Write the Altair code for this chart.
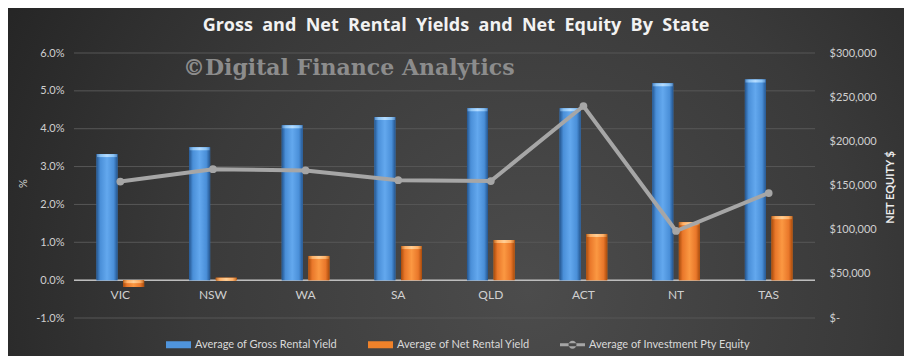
import altair as alt
import pandas as pd

# ---- data ----
states = ["VIC", "NSW", "WA", "SA", "QLD", "ACT", "NT", "TAS"]
gross_yield = [0.0333, 0.0351, 0.0409, 0.0431, 0.0454, 0.0454, 0.0520, 0.0530]
net_yield = [-0.0018, 0.0006, 0.0064, 0.0090, 0.0106, 0.0122, 0.0153, 0.0169]
equity = [154500, 168500, 167000, 156000, 155000, 240000, 98500, 141500]
pct_ticks = [-0.01, 0.0, 0.01, 0.02, 0.03, 0.04, 0.05, 0.06]
equity_ticks = [0, 50000, 100000, 150000, 200000, 250000, 300000]

TITLE = "Gross\u00a0 and\u00a0 Net\u00a0 Rental\u00a0 Yields\u00a0 and\u00a0 Net\u00a0 Equity\u00a0 By\u00a0 State"
WATERMARK = "\u00a9Digital Finance Analytics"
GROSS = "Average of Gross Rental Yield"
NET = "Average of Net Rental Yield"
EQUITY = "Average of Investment Pty Equity"
series_names = [GROSS, NET, EQUITY]
series_colors = ["#4f94dc", "#f0822a", "#a6a6a6"]

bars_df = pd.DataFrame({
    "state": states * 2,
    "series": [GROSS] * len(states) + [NET] * len(states),
    "value": gross_yield + net_yield,
})
eq_df = pd.DataFrame({"state": states, "equity": equity})
grid_df = pd.DataFrame({"v": pct_ticks})

W, H = 741, 265
PAD = {"left": 66, "top": 45, "right": 89, "bottom": 38}
FONT = "Lato"
LBL = "#d0d0d0"

xaxis = alt.Axis(title=None, domain=False, ticks=False, grid=False, labelAngle=0,
                 labelColor=LBL, labelFont=FONT, labelFontSize=12, labelPadding=9,
                 offset=-H / 7.0, zindex=1)
xenc = alt.X("state:N", sort=states, scale=alt.Scale(paddingInner=0, paddingOuter=0), axis=xaxis)
xoff = alt.XOffset("series:N", sort=[GROSS, NET],
                   scale=alt.Scale(domain=[GROSS, NET], paddingInner=0.21, paddingOuter=0.845))

yscale = alt.Scale(domain=[-0.01, 0.06], nice=False, zero=False)
yaxis = alt.Axis(title="%", values=pct_ticks,
                 labelExpr="replace(format(datum.value, '.1%'), '\u2212', '-')",
                 grid=False, domain=False, ticks=False, labelColor=LBL, labelFont=FONT,
                 labelFontSize=11, labelPadding=10, titleColor=LBL, titleFont=FONT,
                 titleFontSize=11, titleFontWeight="normal", titleAngle=270,
                 titleX=-51, titleY=130, titleAlign="center", titleBaseline="middle",
                 zindex=1)

shape_expr = ("datum.value === '" + EQUITY + "' ? "
              "'M-1,-0.12H1V0.12H-1Z M-0.32,0A0.32,0.32 0 1 0 0.32,0A0.32,0.32 0 1 0 -0.32,0Z' : "
              "'M-1,-0.28H1V0.28H-1Z'")

legend = alt.Legend(
    title=None, orient="none", legendX=92, legendY=279, direction="horizontal",
    labelColor="#d9d9d9", labelFont=FONT, labelFontSize=11, labelOffset=4, labelLimit=400,
    symbolType=alt.ExprRef(expr=shape_expr), symbolSize=625, symbolStrokeWidth=0,
    columnPadding=30, padding=0, zindex=1,
)

bg = alt.Chart(pd.DataFrame({"a": [0]})).mark_rect(
    fill=alt.RadialGradient(
        gradient="radial",
        stops=[alt.GradientStop(color="#4c4c4c", offset=0),
               alt.GradientStop(color="#3a3a3a", offset=0.5),
               alt.GradientStop(color="#1f1f1f", offset=1)],
        x1=0.58, y1=0.62, r1=0, x2=0.58, y2=0.62, r2=0.75),
    strokeWidth=0,
).encode(x=alt.value(-PAD["left"]), x2=alt.value(W + PAD["right"]),
         y=alt.value(-PAD["top"]), y2=alt.value(H + PAD["bottom"]))

grid = alt.Chart(grid_df).mark_rule(color="#575757", strokeWidth=1).encode(
    y=alt.Y("v:Q", scale=yscale, axis=yaxis))
zero = alt.Chart(grid_df).transform_filter("datum.v == 0").mark_rule(
    color="#bdbdbd", strokeWidth=1.5).encode(y=alt.Y("v:Q", scale=yscale, axis=yaxis))

yb = alt.Y("value:Q", scale=yscale, axis=yaxis, stack=None)

bars_base = alt.Chart(bars_df).mark_bar(strokeWidth=0).encode(
    x=xenc, xOffset=xoff, y=yb,
    color=alt.Color("series:N", scale=alt.Scale(domain=series_names, range=series_colors),
                    legend=legend))

def grad(edge, mid, center):
    return alt.LinearGradient(
        gradient="linear", x1=0, y1=0, x2=1, y2=0,
        stops=[alt.GradientStop(color=edge, offset=0),
               alt.GradientStop(color=mid, offset=0.18),
               alt.GradientStop(color=center, offset=0.5),
               alt.GradientStop(color=mid, offset=0.82),
               alt.GradientStop(color=edge, offset=1)])

bars_gross = alt.Chart(bars_df).transform_filter(f"datum.series == '{GROSS}'").mark_bar(
    fill=grad("#24558e", "#4a8fd8", "#63a8ee"), strokeWidth=0).encode(x=xenc, xOffset=xoff, y=yb)
bars_net = alt.Chart(bars_df).transform_filter(f"datum.series == '{NET}'").mark_bar(
    fill=grad("#a84b0c", "#e9772a", "#fb9842"), strokeWidth=0).encode(x=xenc, xOffset=xoff, y=yb)

ytop = alt.Y("top:Q", scale=yscale, axis=yaxis)
caps_gross = alt.Chart(bars_df).transform_filter(f"datum.series == '{GROSS}'").transform_calculate(
    top="max(datum.value, 0)").mark_tick(
    fill=grad("#5b8fc8", "#8cc4f5", "#b5dcff"), thickness=3, size=20, yOffset=1.5,
    opacity=1).encode(x=xenc, xOffset=xoff, y=ytop)
caps_net = alt.Chart(bars_df).transform_filter(f"datum.series == '{NET}'").transform_calculate(
    top="max(datum.value, 0)").mark_tick(
    fill=grad("#c8752e", "#ffb067", "#ffcf96"), thickness=3, size=20, yOffset=1.5,
    opacity=1).encode(x=xenc, xOffset=xoff, y=ytop)

watermark = alt.Chart(pd.DataFrame({"t": [WATERMARK]})).mark_text(
    align="left", baseline="middle", font="DejaVu Serif", fontWeight="bold",
    fontSize=22, color="#8c8c8c").encode(x=alt.value(109), y=alt.value(15), text="t:N")

title = alt.Chart(pd.DataFrame({"t": [TITLE]})).mark_text(
    align="center", baseline="alphabetic", font="Open Sans", fontWeight="bold",
    fontSize=18, color="#f2f2f2").encode(x=alt.value(382), y=alt.value(-22), text="t:N")

left = alt.layer(bg, grid, zero, bars_base, bars_gross, bars_net, caps_gross, caps_net,
                 watermark, title)

raxis = alt.Axis(orient="right", title="NET EQUITY $", values=equity_ticks,
                 labelExpr="datum.value == 0 ? '$-' : format(datum.value, '$,')",
                 grid=False, domain=False, ticks=False, labelColor=LBL, labelFont=FONT,
                 labelFontSize=11, labelPadding=14, titleColor="#ececec", titleFont=FONT,
                 titleFontSize=11, titleFontWeight="bold", titleAngle=270,
                 titleX=75, titleY=134, titleAlign="center", titleBaseline="middle",
                 zindex=1)

line = alt.Chart(eq_df).mark_line(
    color="#a6a6a6", strokeWidth=4,
    point=alt.OverlayMarkDef(color="#a6a6a6", size=60, filled=True, opacity=1),
).encode(x=xenc, y=alt.Y("equity:Q", scale=alt.Scale(domain=[0, 300000], nice=False),
                         axis=raxis))

chart = alt.layer(left, line).resolve_scale(y="independent").properties(
    width=W, height=H,
    padding=PAD, autosize="none", background="#2a2a2a",
).configure_view(stroke=None)

chart.save("out.html", embed_options={"renderer": "svg", "actions": False})
